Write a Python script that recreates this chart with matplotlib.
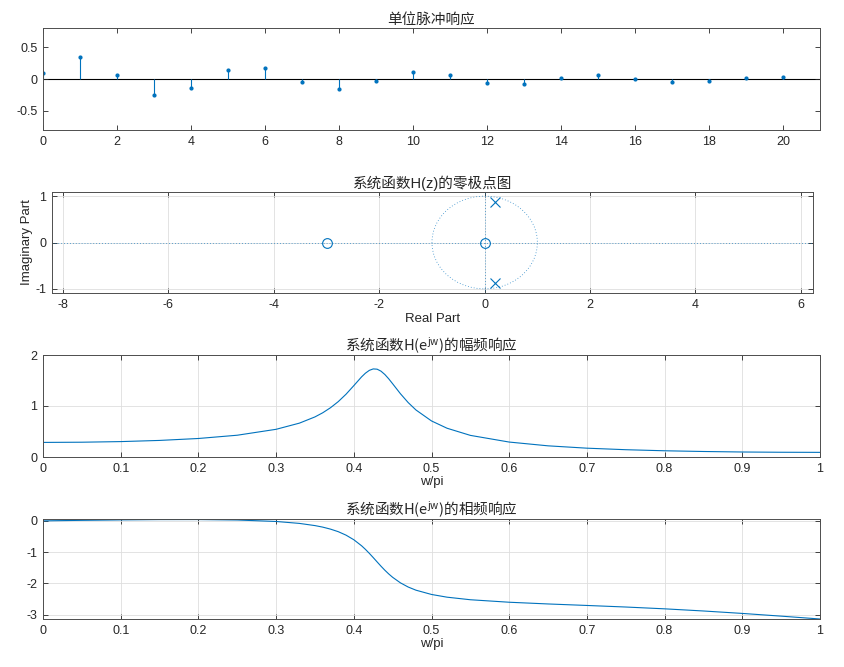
import numpy as np
import matplotlib
matplotlib.use('Agg')
import matplotlib.pyplot as plt
from matplotlib.patches import Circle

# fonts: Latin like MATLAB's Helvetica, CJK from Noto
plt.rcParams['font.family'] = ['Liberation Sans', 'Noto Sans CJK SC']
plt.rcParams['axes.unicode_minus'] = False
plt.rcParams['mathtext.fontset'] = 'custom'
plt.rcParams['mathtext.rm'] = 'Noto Sans CJK SC:light'
plt.rcParams['mathtext.it'] = 'Noto Sans CJK SC:light'
plt.rcParams['mathtext.bf'] = 'Noto Sans CJK SC'

blue = '#0072BD'
axc = '#262626'
gridc = '#dedede'
tfs = 10.5  # title size

# I. DATA
n = list(range(21))
h = [0.10, 0.34, 0.056, -0.25, -0.145, 0.142, 0.173, -0.05, -0.16, -0.03,
     0.11, 0.06, -0.07, -0.08, 0.01, 0.07, 0.005, -0.05, -0.03, 0.02, 0.03]

zeros_re = [-3.0, 0.0]
zeros_im = [0.0, 0.0]
poles_re = [0.2, 0.2]
poles_im = [0.872, -0.872]

w_pi = [0, 0.05, 0.1, 0.15, 0.2, 0.25, 0.3, 0.33, 0.35, 0.36, 0.37, 0.38, 0.39,
        0.40, 0.41, 0.415, 0.42, 0.425, 0.43, 0.435, 0.44, 0.445, 0.45, 0.46,
        0.47, 0.48, 0.5, 0.52, 0.55, 0.6, 0.65, 0.7, 0.75, 0.8, 0.85, 0.9, 0.95, 1.0]
mag = [0.286, 0.290, 0.302, 0.325, 0.363, 0.427, 0.543, 0.664, 0.786, 0.867,
       0.966, 1.086, 1.231, 1.399, 1.571, 1.644, 1.699, 1.727, 1.722, 1.683,
       1.617, 1.532, 1.436, 1.241, 1.067, 0.922, 0.707, 0.564, 0.424, 0.293,
       0.219, 0.173, 0.143, 0.122, 0.108, 0.098, 0.093, 0.091]
phase = [0, 0.017, 0.031, 0.041, 0.042, 0.028, -0.019, -0.081, -0.151, -0.200,
         -0.264, -0.346, -0.457, -0.604, -0.797, -0.913, -1.040, -1.175, -1.314,
         -1.451, -1.581, -1.700, -1.807, -1.984, -2.118, -2.219, -2.356, -2.443,
         -2.525, -2.605, -2.660, -2.708, -2.758, -2.816, -2.885, -2.963, -3.050, -3.1416]

freq_ticks = [0, 0.1, 0.2, 0.3, 0.4, 0.5, 0.6, 0.7, 0.8, 0.9, 1]
freq_labels = ['0', '0.1', '0.2', '0.3', '0.4', '0.5', '0.6', '0.7', '0.8', '0.9', '1']

# II. FIGURE
W, H = 845, 667
fig = plt.figure(figsize=(W / 100, H / 100), dpi=100)


def box(l, t, r, b):
    return [l / W, 1 - b / H, (r - l) / W, (b - t) / H]


def style(ax, grid=True):
    ax.tick_params(direction='in', top=True, right=True, length=3.5, width=0.6,
                   labelsize=9, colors=axc, pad=4)
    for s in ax.spines.values():
        s.set_color('#4d4d4d')
        s.set_linewidth(0.7)
    if grid:
        ax.grid(True, color=gridc, lw=0.6)
        ax.set_axisbelow(True)


ax1 = fig.add_axes(box(43, 28, 820, 130))
ax2 = fig.add_axes(box(52, 192, 813, 293))
ax3 = fig.add_axes(box(43, 355, 820, 457))
ax4 = fig.add_axes(box(43, 519, 820, 619))

# impulse response
ml, sl, bl = ax1.stem(n, h)
bl.set_visible(False)
plt.setp(ml, markersize=2, color=blue)
plt.setp(sl, linewidth=0.8, color=blue)
ax1.axhline(0, color='k', lw=0.8, zorder=1)
ax1.set_xlim(0, 21)
ax1.set_ylim(-0.8, 0.8)
ax1.set_xticks(range(0, 21, 2))
ax1.set_yticks([-0.5, 0, 0.5])
ax1.set_yticklabels(['-0.5', '0', '0.5'])
ax1.set_title('单位脉冲响应', fontsize=tfs, pad=3, color=axc, fontweight='light')
style(ax1, grid=False)

# zero-pole plot
dot = (0, (1, 2.5))
ax2.add_patch(Circle((0, 0), 1, fill=False, ls=dot, lw=0.6, color=blue, alpha=0.8))
ax2.axhline(0, color=blue, ls=dot, lw=0.6, alpha=0.8)
ax2.axvline(0, color=blue, ls=dot, lw=0.6, alpha=0.8)
ax2.plot(zeros_re, zeros_im, 'o', mfc='none', mec=blue, ms=7, mew=0.8)
ax2.plot(poles_re, poles_im, 'x', color=blue, ms=7, mew=0.8)
ax2.set_xlim(-8.21, 6.23)
ax2.set_ylim(-1.09, 1.09)
ax2.set_xticks(range(-8, 7, 2))
ax2.set_yticks([-1, 0, 1])
ax2.set_xlabel('Real Part', fontsize=9.5, color=axc, labelpad=2)
ax2.set_ylabel('Imaginary Part', fontsize=9.5, color=axc, labelpad=2)
ax2.set_title('系统函数H(z)的零极点图', fontsize=tfs, pad=3, color=axc, fontweight='light')
style(ax2)

# magnitude
ax3.plot(w_pi, mag, color=blue, lw=0.8)
ax3.set_xlim(0, 1)
ax3.set_ylim(0, 2)
ax3.set_xticks(freq_ticks)
ax3.set_xticklabels(freq_labels)
ax3.set_yticks([0, 1, 2])
ax3.set_xlabel('w/pi', fontsize=9.5, color=axc, labelpad=1)
ax3.set_title(r'系统函数H(e$^{\mathrm{jw}}$)的幅频响应', fontsize=tfs, pad=3, color=axc,
              family='Noto Sans CJK SC', fontweight='light')
style(ax3)

# phase
ax4.plot(w_pi, phase, color=blue, lw=0.8)
ax4.set_xlim(0, 1)
ax4.set_ylim(-3.1416, 0.06)
ax4.set_xticks(freq_ticks)
ax4.set_xticklabels(freq_labels)
ax4.set_yticks([-3, -2, -1, 0])
ax4.set_xlabel('w/pi', fontsize=9.5, color=axc, labelpad=1)
ax4.set_title(r'系统函数H(e$^{\mathrm{jw}}$)的相频响应', fontsize=tfs, pad=3, color=axc,
              family='Noto Sans CJK SC', fontweight='light')
style(ax4)

plt.savefig('out.png', dpi=100)
